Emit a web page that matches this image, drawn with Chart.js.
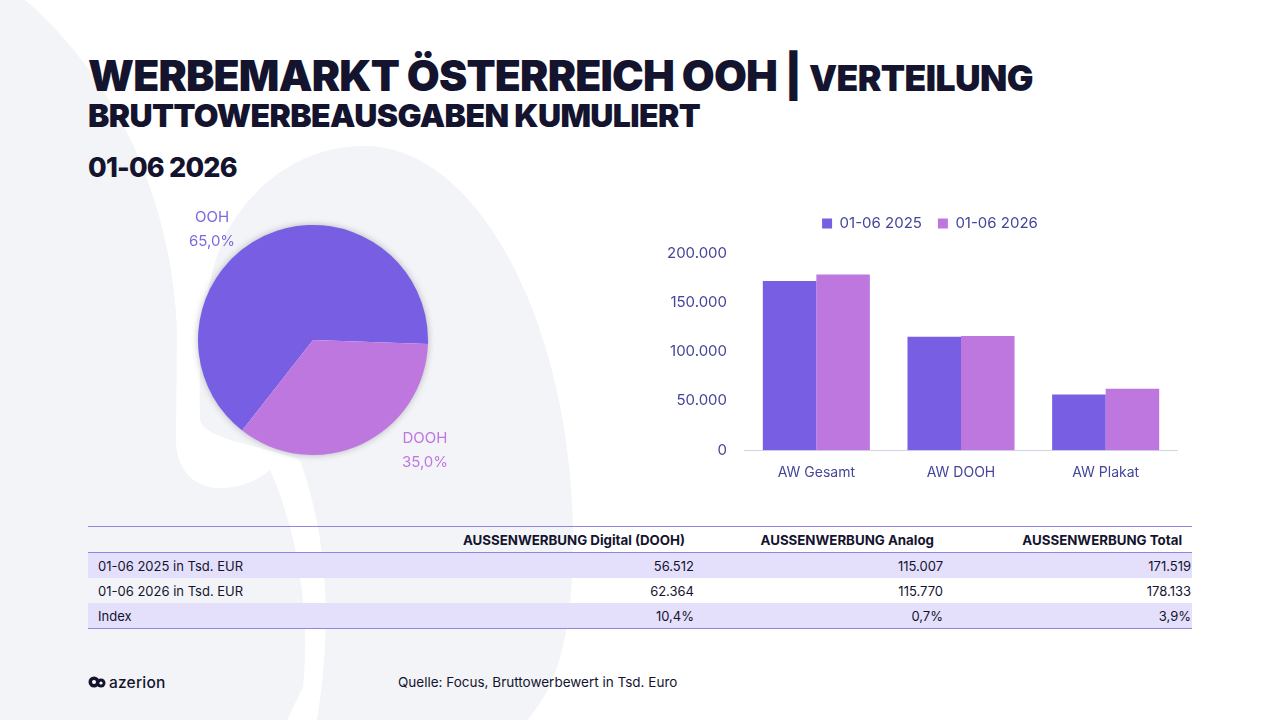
<!DOCTYPE html>
<html lang="de">
<head>
<meta charset="utf-8">
<title>Werbemarkt Österreich OOH</title>
<script src="https://cdn.jsdelivr.net/npm/chart.js@4.4.1/dist/chart.umd.min.js"></script>
<style>
    html, body { margin: 0; padding: 0; }
    body { width: 1280px; height: 720px; position: relative; overflow: hidden; background: #fff; font-family: Inter, 'Noto Sans', sans-serif; color: #14142f; }
    #bg { position: absolute; left: 0; top: 0; }
    .abs { position: absolute; }
    #title { left: 88px; top: 55px; font-weight: 900; font-size: 42.5px; letter-spacing: -0.8px; white-space: nowrap; line-height: 1; }
    #title .small { font-size: 35.5px; letter-spacing: -0.6px; }
    #subtitle { left: 88px; top: 100px; font-weight: 900; font-size: 32px; letter-spacing: -0.6px; white-space: nowrap; line-height: 1; }
    #period { left: 88px; top: 154px; font-weight: 800; font-size: 27px; letter-spacing: -0.8px; line-height: 1; }
    #pieWrap { left: 183px; top: 210px; width: 260px; height: 260px; }
    #barWrap { left: 650px; top: 200px; width: 528px; height: 295px; }
    .pielab { font-size: 15px; line-height: 24px; text-align: center; }
    table { position: absolute; left: 88px; top: 526px; width: 1104px; border-collapse: collapse; table-layout: fixed; font-size: 13px; }
    th { font-weight: 700; text-align: right; height: 25px; padding: 0 10px 0 0; font-size: 13.3px; border-top: 1px solid #8f86e0; border-bottom: 1px solid #8f86e0; }
    td { height: 25px; padding: 0 1px 0 10px; text-align: right; font-size: 13px; }
    td.lab { text-align: left; }
    tr.shade td { background: #e4e0fb; }
    tr.last td { border-bottom: 1px solid #8f86e0; }
    #logo { left: 88px; top: 673px; font-size: 15.5px; font-weight: 500; letter-spacing: 0.2px; }
    #source { left: 398px; top: 674px; font-size: 13.5px; }
</style>
</head>
<body>
<svg id="bg" width="1280" height="720" viewBox="0 0 1280 720">
    <path d="M365,146 C480,146 573,330 573,540 C573,640 555,690 527,720 L317,720 C333,620 327,537 300,460 C260,445 205,440 200,420 C198,340 205,280 225,235 C255,180 305,146 365,146 Z" fill="#f3f4f7"/>
    <path d="M0,0 L25,0 C95,60 170,170 177,330 L176,440 C176,475 200,490 225,488 C245,486 258,480 270,470 C300,537 310,620 303,687 L287,720 L0,720 Z" fill="#f3f4f7"/>
</svg>

<div id="title" class="abs">WERBEMARKT ÖSTERREICH OOH | <span class="small">VERTEILUNG</span></div>
<div id="subtitle" class="abs">BRUTTOWERBEAUSGABEN KUMULIERT</div>
<div id="period" class="abs">01-06 2026</div>

<div id="pieWrap" class="abs"><canvas id="chartPie"></canvas></div>
<div id="labOOH" class="abs pielab" style="left:182px; top:205px; width:60px;"></div>
<div id="labDOOH" class="abs pielab" style="left:395px; top:426px; width:60px;"></div>

<div id="barWrap" class="abs"><canvas id="chartBar"></canvas></div>

<table id="tbl">
    <colgroup><col style="width:357px"><col style="width:250px"><col style="width:249px"><col style="width:248px"></colgroup>
    <tbody id="tblBody"></tbody>
</table>

<div id="logo" class="abs">
    <svg width="19" height="14" viewBox="0 0 19 14" style="vertical-align:-1px;margin-right:2px">
        <circle cx="6" cy="7" r="5.5" fill="#14142f"/>
        <circle cx="13" cy="8" r="4.5" fill="#14142f"/>
        <circle cx="6" cy="7" r="2" fill="#fff"/>
        <circle cx="13" cy="8" r="1.6" fill="#fff"/>
    </svg>azerion
</div>
<div id="source" class="abs">Quelle: Focus, Bruttowerbewert in Tsd. Euro</div>

<script>
'use strict';

// ── Daten ───────────────────────────────────────────────────────────────────
var pieLabels = ['OOH', 'DOOH'];
var pieShares = [65.0, 35.0];

var barCategories = ['AW Gesamt', 'AW DOOH', 'AW Plakat'];
var seriesNames = ['01-06 2025', '01-06 2026'];
var values2025 = [171519, 115007, 56512];
var values2026 = [178133, 115770, 62364];
var yTicks = [0, 50000, 100000, 150000, 200000];

var tableHeader = ['', 'AUSSENWERBUNG Digital (DOOH)', 'AUSSENWERBUNG Analog', 'AUSSENWERBUNG Total'];
var rowLabels = ['01-06 2025 in Tsd. EUR', '01-06 2026 in Tsd. EUR', 'Index'];
var rowDooh = ['56.512', '62.364', '10,4%'];
var rowAnalog = ['115.007', '115.770', '0,7%'];
var rowTotal = ['171.519', '178.133', '3,9%'];

var COLORS = {
    violet: '#775ee3',
    orchid: '#bd77df',
    axis: '#45459a',
    ink: '#14142f'
};

// ── Kreisdiagramm ───────────────────────────────────────────────────────────
function fmtPct(v) {
    return v.toFixed(1).replace('.', ',') + '%';
}

document.getElementById('labOOH').innerHTML = pieLabels[0] + '<br>' + fmtPct(pieShares[0]);
document.getElementById('labOOH').style.color = '#7d68dc';
document.getElementById('labDOOH').innerHTML = pieLabels[1] + '<br>' + fmtPct(pieShares[1]);
document.getElementById('labDOOH').style.color = COLORS.orchid;

// Schatten hinter dem Kreis
var pieShadow = {
    id: 'pieShadow',
    beforeDatasetsDraw: function(chart) {
        var arc = chart.getDatasetMeta(0).data[0];
        if (!arc) return;
        var c = chart.ctx;
        c.save();
        c.shadowColor = 'rgba(40,40,60,0.35)';
        c.shadowBlur = 7;
        c.fillStyle = '#ffffff';
        c.beginPath();
        c.arc(arc.x, arc.y, arc.outerRadius - 0.5, 0, Math.PI * 2);
        c.fill();
        c.restore();
    }
};

new Chart(document.getElementById('chartPie'), {
    type: 'pie',
    data: {
        labels: pieLabels,
        datasets: [{
            data: pieShares,
            backgroundColor: [COLORS.violet, COLORS.orchid],
            borderWidth: 0
        }]
    },
    options: {
        responsive: true,
        maintainAspectRatio: false,
        animation: false,
        rotation: 218,
        layout: { padding: 15 },
        plugins: {
            legend: { display: false },
            tooltip: { enabled: false }
        }
    },
    plugins: [pieShadow]
});

// ── Balkendiagramm ──────────────────────────────────────────────────────────
// Abstand unter der Legende + Legende leicht nach rechts
var legendSpacer = {
    id: 'legendSpacer',
    beforeInit: function(chart) {
        var fit = chart.legend.fit;
        chart.legend.fit = function() {
            fit.call(this);
            this.height += 12;
        };
    },
    afterLayout: function(chart) {
        chart.legend.left += 16;
        chart.legend.right += 16;
    }
};

new Chart(document.getElementById('chartBar'), {
    type: 'bar',
    data: {
        labels: barCategories,
        datasets: [
            {
                label: seriesNames[0],
                data: values2025,
                backgroundColor: COLORS.violet,
                categoryPercentage: 0.74,
                barPercentage: 1.0
            },
            {
                label: seriesNames[1],
                data: values2026,
                backgroundColor: COLORS.orchid,
                categoryPercentage: 0.74,
                barPercentage: 1.0
            }
        ]
    },
    options: {
        responsive: true,
        maintainAspectRatio: false,
        animation: false,
        layout: { padding: 0 },
        plugins: {
            legend: {
                display: true,
                position: 'top',
                labels: {
                    boxWidth: 10,
                    boxHeight: 10,
                    padding: 16,
                    color: COLORS.axis,
                    font: { family: 'Inter', size: 15 }
                }
            },
            tooltip: { enabled: false }
        },
        scales: {
            x: {
                grid: { display: false, drawTicks: false },
                border: { display: true, color: '#d3d3e6', width: 1 },
                ticks: {
                    color: COLORS.axis,
                    padding: 14,
                    font: { family: 'Inter', size: 14 }
                }
            },
            y: {
                min: 0,
                max: yTicks[yTicks.length - 1],
                afterBuildTicks: function(axis) {
                    axis.ticks = yTicks.map(function(v) { return { value: v }; });
                },
                grid: { display: false, drawTicks: false },
                border: { display: false },
                ticks: {
                    color: COLORS.axis,
                    padding: 17,
                    font: { family: 'Inter', size: 15 },
                    callback: function(value) {
                        return value.toLocaleString('de-DE');
                    }
                }
            }
        }
    },
    plugins: [legendSpacer]
});

// ── Tabelle ─────────────────────────────────────────────────────────────────
var html = '<tr>';
tableHeader.forEach(function(h) { html += '<th>' + h + '</th>'; });
html += '</tr>';
for (var i = 0; i < rowLabels.length; i++) {
    var cls = [];
    if (i % 2 === 0) cls.push('shade');
    if (i === rowLabels.length - 1) cls.push('last');
    html += '<tr class="' + cls.join(' ') + '">'
        + '<td class="lab">' + rowLabels[i] + '</td>'
        + '<td>' + rowDooh[i] + '</td>'
        + '<td>' + rowAnalog[i] + '</td>'
        + '<td>' + rowTotal[i] + '</td>'
        + '</tr>';
}
document.getElementById('tblBody').innerHTML = html;
</script>
</body>
</html>
